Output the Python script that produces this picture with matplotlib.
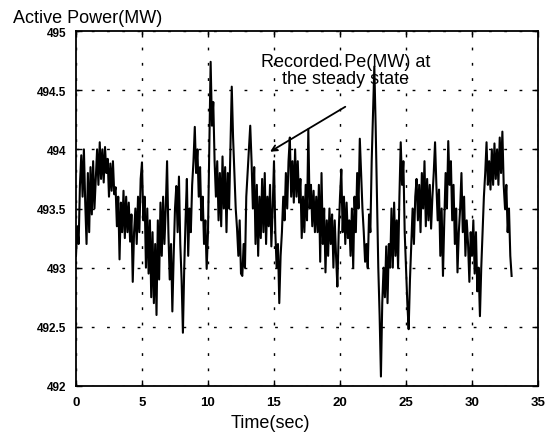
import numpy as np
import matplotlib
matplotlib.use("Agg")
import matplotlib.pyplot as plt

plt.rcParams['font.family'] = ['Liberation Sans', 'DejaVu Sans']

# sample step of the recording (sec)
dt = 0.1

# active power, one row per second
pe = [
    493.1, 493.35, 493.2, 493.7, 493.95, 493.6, 494.0, 493.55, 493.2, 493.8,
    493.3, 493.85, 493.45, 493.9, 493.5, 493.75, 494.0, 493.7, 494.06, 493.75,
    494.0, 493.72, 494.02, 493.8, 493.92, 493.6, 493.88, 493.65, 493.9, 493.62,
    493.68, 493.35, 493.6, 493.07, 493.55, 493.3, 493.65, 493.25, 493.6, 493.3,
    493.55, 493.22, 493.45, 492.88, 493.3, 493.5, 493.2, 493.6, 493.3, 493.75,
    493.89, 493.4, 493.6, 493.0, 493.5, 492.95, 493.4, 492.75, 493.3, 492.7,
    493.2, 492.6, 493.4, 492.9, 493.55, 493.1, 493.6, 493.2, 493.5, 493.9,
    493.3, 492.9, 493.2, 492.63, 493.1, 493.5, 493.69, 493.3, 493.77, 493.2,
    492.9, 492.45, 493.0, 493.4, 493.75, 493.1, 493.5, 493.3, 493.7, 493.9,
    494.19, 493.8, 494.0, 493.6, 493.85, 493.4, 493.6, 493.2, 493.4, 492.99,
    493.3, 494.0, 494.74, 494.2, 494.4, 493.9, 493.6, 493.9, 493.4, 493.8,
    493.35, 493.94, 493.5, 493.85, 493.3, 493.8, 493.5, 494.0, 494.53, 494.1,
    493.8, 493.5, 493.33, 493.1, 493.4, 492.95, 492.93, 493.2, 493.0, 493.6,
    493.8, 494.0, 494.2, 493.9, 493.5, 493.85, 493.2, 493.7, 493.1, 493.6,
    493.25, 493.75, 493.3, 493.8, 493.2, 493.6, 493.35, 493.7, 493.18, 493.5,
    493.9, 493.3, 493.0, 493.2, 492.7, 493.1, 493.3, 493.6, 493.4, 493.8,
    493.5, 493.9, 494.1, 493.6, 493.9, 493.55, 494.0, 493.6, 493.9, 493.55,
    493.75, 493.25, 493.6, 493.3, 493.7, 493.4, 494.17, 493.5, 493.7, 493.35,
    493.65, 493.3, 493.6, 493.3, 493.7, 493.05, 493.8, 493.2, 493.5, 492.96,
    493.4, 493.1, 493.5, 493.2, 493.45, 493.0, 493.4, 493.1, 492.84, 493.3,
    493.6, 493.83, 493.3, 493.6, 493.2, 493.55, 493.25, 493.4, 493.1, 493.5,
    493.0, 493.6, 493.3, 493.8, 493.5, 494.09, 493.8, 493.5, 493.3, 493.05,
    493.2, 493.0, 493.45, 493.3, 493.9, 494.3, 494.7, 494.2, 493.6, 493.0,
    492.6, 492.08, 492.7, 493.0, 492.75, 493.18, 492.7, 493.2, 493.0, 493.5,
    493.0, 493.55, 493.1, 493.4, 493.0, 493.6, 494.06, 493.7, 493.9, 493.3,
    493.0, 492.7, 492.48, 492.9, 493.2, 493.5, 493.2, 493.6, 493.75, 493.4,
    493.7, 493.3, 493.8, 493.5, 493.9, 493.35, 493.75, 493.4, 493.7, 493.33,
    493.6, 493.8, 494.06, 493.7, 493.4, 493.66, 493.1, 493.5, 492.93, 493.4,
    493.8, 493.5, 494.07, 493.7, 493.9, 493.4, 493.7, 493.2, 493.5, 492.96,
    493.3, 493.5, 493.8, 493.3, 493.6, 493.1, 493.4, 493.2, 492.88, 493.3,
    493.1, 493.4, 492.95, 493.3, 492.8, 493.0, 492.59, 493.0, 493.3, 493.6,
    493.8, 494.06, 493.7, 493.9, 493.66, 494.0, 493.7, 494.05, 493.75, 494.0,
    493.7, 494.1, 493.8, 494.15, 493.7, 493.5, 493.7, 493.3, 493.5, 493.1,
    492.93,
]
t = np.arange(len(pe)) * dt

xticks = [0, 5, 10, 15, 20, 25, 30, 35]
yticks = [492, 492.5, 493, 493.5, 494, 494.5, 495]
ytick_labels = ['492', '492.5', '493', '493.5', '494', '494.5', '495']

fig = plt.figure(figsize=(5.49, 4.39), dpi=100)
ax = fig.add_axes([0.1384, 0.1185, 0.8416, 0.8085])

ax.plot(t, pe, color='black', linewidth=1.5)

ax.set_xlim(0, 35)
ax.set_ylim(492, 495)
ax.set_xticks(xticks)
ax.set_yticks(yticks)
ax.set_xticklabels([str(x) for x in xticks], fontsize=9.5, fontweight='bold')
ax.set_yticklabels(ytick_labels, fontsize=8.5, fontweight='bold')
ax.tick_params(direction='in', top=True, right=True, length=4, width=1)
ax.tick_params(axis='x', pad=7)
ax.tick_params(axis='y', pad=7)
ax.grid(True, color='black', linestyle=(0, (2, 9)), linewidth=1.0)
for s in ax.spines.values():
    s.set_linewidth(1.3)

# label and arrow
ax.text(20.45, 494.53, 'Recorded Pe(MW) at\nthe steady state', ha='center', va='bottom',
        fontsize=13, linespacing=0.95)
ax.annotate('', xy=(14.7, 493.98), xytext=(20.4, 494.36),
            arrowprops=dict(arrowstyle='->', color='black', lw=1.3, shrinkA=0, shrinkB=0))

fig.text(0.024, 0.958, 'Active Power(MW)', fontsize=13, ha='left', va='center')
fig.text(0.492, 0.036, 'Time(sec)', fontsize=13, ha='center', va='center')

fig.savefig('out.png', dpi=100)
